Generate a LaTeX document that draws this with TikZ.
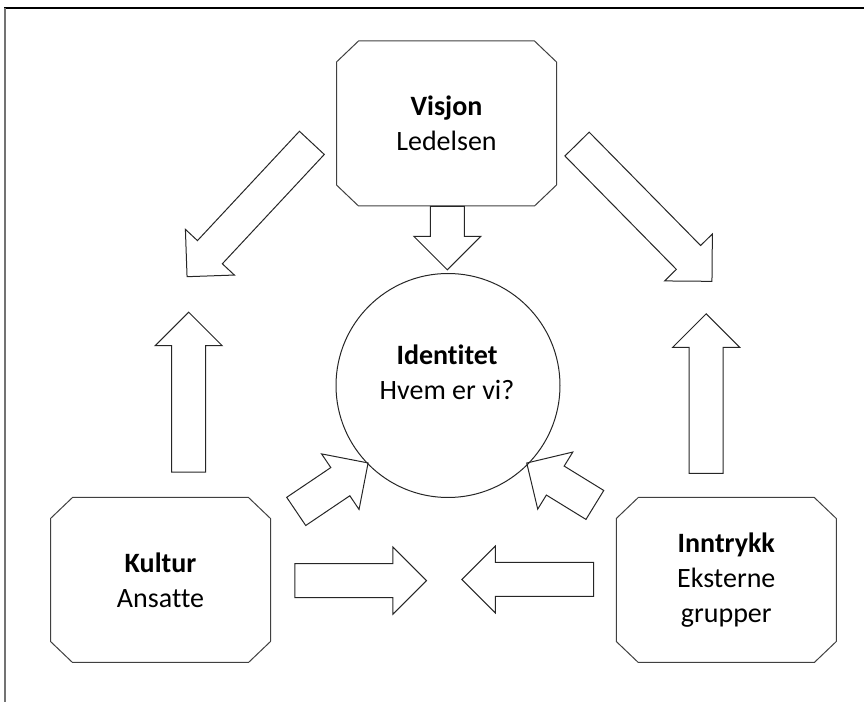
\documentclass[tikz,border=0pt]{standalone}
\usepackage{fontspec}
\setmainfont{Carlito}[Ligatures=NoCommon]
\usetikzlibrary{shapes.arrows}

\tikzset{
  boxnode/.style={minimum width=110pt, minimum height=82.5pt, inner sep=0pt,
    outer sep=0pt, align=center, font=\fontsize{14}{17.5}\selectfont},
  boxline/.style={draw=black!75, line width=0.5pt, line join=round},
  blockarrow/.style={draw=black!85, line width=0.5pt, single arrow,
    single arrow head extend=8.25pt, single arrow tip angle=90,
    minimum width=33pt, inner xsep=0pt, inner ysep=8.25pt, anchor=tail},
}

\begin{document}
\begin{tikzpicture}[x=0.5pt,y=0.5pt]
\useasboundingbox (0,0) rectangle (864,702);

% frame lines
\draw[line width=1pt] (4,694) -- (864,694);
\draw[line width=1pt, black!55] (5,694) -- (5,0);

% the three boxes
\node[boxnode] (visjon) at (446.5,578.5) {\textbf{Visjon}\\Ledelsen};
\node[boxnode] (kultur) at (160.5,122) {\textbf{Kultur}\\Ansatte};
\node[boxnode] (inntrykk) at (726.3,122) {\textbf{Inntrykk}\\Eksterne\\grupper};

% cut corners round each box
\foreach \b in {visjon,kultur,inntrykk}
  \draw[boxline] ([xshift=11pt]\b.north west) -- ([xshift=-11pt]\b.north east)
    -- ([yshift=-10.5pt]\b.north east) -- ([yshift=10.5pt]\b.south east)
    -- ([xshift=-11pt]\b.south east) -- ([xshift=11pt]\b.south west)
    -- ([yshift=10.5pt]\b.south west) -- ([yshift=-10.5pt]\b.north west) -- cycle;

% the circle in the middle
\node[draw=black!85, line width=0.5pt, circle, minimum size=112pt, inner sep=0pt] (ident) at (448,316.5) {};
\node[align=center, font=\fontsize{14}{17.5}\selectfont] (identtext) at (447,330) {\textbf{Identitet}\\Hvem er vi?};

% block arrows (anchored at their tails)
\node[blockarrow, minimum height=31.65pt, rotate=-90] (visdown) at (447.3,496) {};
\node[blockarrow, minimum height=91.5pt, rotate=227] (visleft) at (312.2,559.5) {};
\node[blockarrow, minimum height=96.25pt, rotate=-45.5] (visright) at (576.7,558.3) {};
\node[blockarrow, minimum height=80pt, rotate=90] (kulup) at (188.7,229.3) {};
\node[blockarrow, minimum height=79.85pt, rotate=90] (innup) at (706.2,228) {};
\node[blockarrow, minimum height=43.35pt, rotate=34] (kulident) at (295.8,190.3) {};
\node[blockarrow, minimum height=40pt, rotate=148.4] (innident) at (595.3,196.8) {};
\node[blockarrow, minimum height=65.85pt, rotate=0] (kulright) at (294.3,121.3) {};
\node[blockarrow, minimum height=65.85pt, rotate=180] (innleft) at (594,122.5) {};
\end{tikzpicture}
\end{document}
